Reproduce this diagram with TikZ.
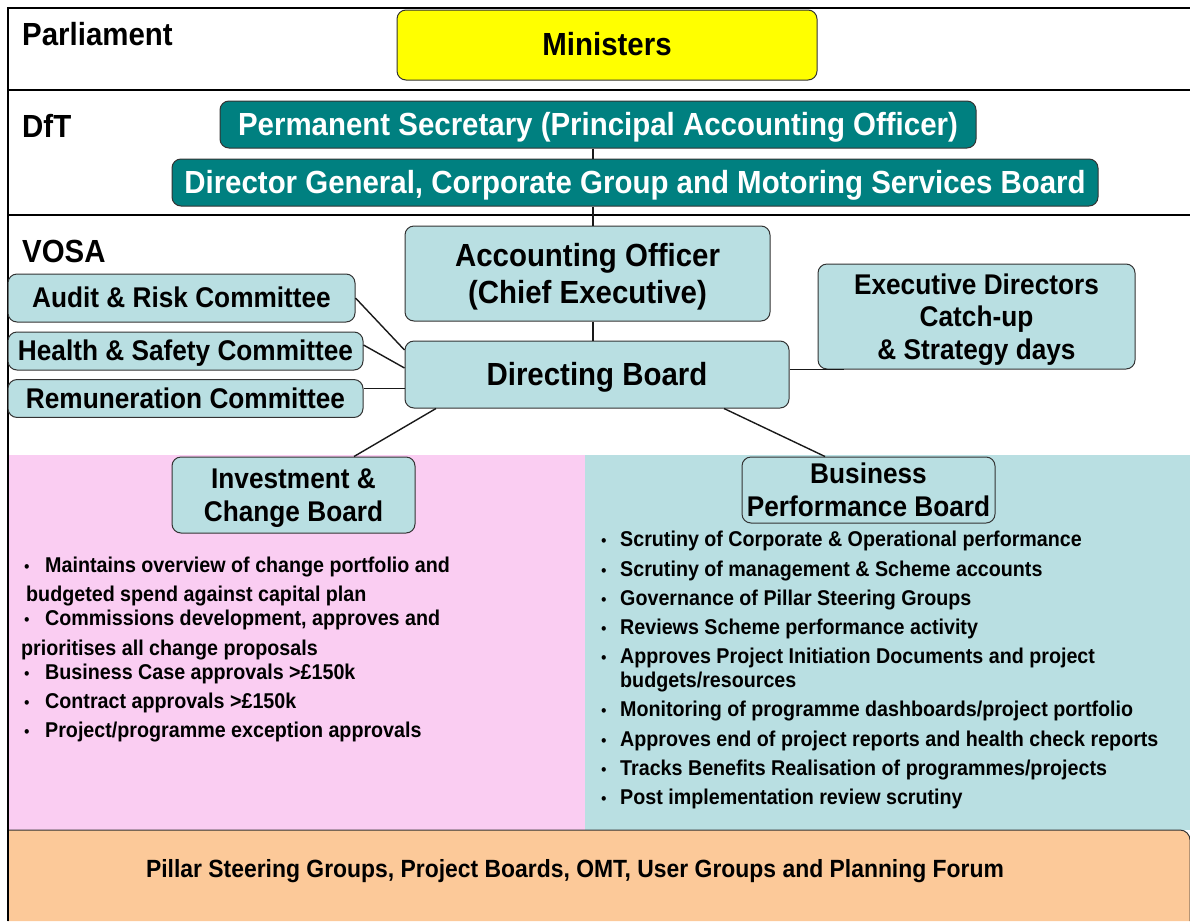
\documentclass[tikz,border=0pt]{standalone}
\usepackage{fontspec}
\setmainfont{Liberation Sans}[FakeStretch=0.92]
\usetikzlibrary{calc}

\definecolor{ministeryellow}{RGB}{255,255,0}
\definecolor{dftteal}{RGB}{0,128,128}
\definecolor{vosablue}{RGB}{185,223,226}
\definecolor{icbpink}{RGB}{250,205,242}
\definecolor{pillarorange}{RGB}{252,201,153}

\tikzset{
  box/.style={draw=black!80, line width=1pt, rounded corners=9pt, fill=vosablue, align=center, inner sep=0pt,
    font=\bfseries\fontsize{28.5}{32.5}\selectfont,
    execute at begin node={\rule{0pt}{1em}}, execute at end node={\rule[-0.33em]{0pt}{0pt}}},
  bigbox/.style={box, font=\bfseries\fontsize{32}{37}\selectfont},
  dftbox/.style={box, fill=dftteal, text=white, font=\bfseries\fontsize{32}{36}\selectfont},
  multi/.style={text depth=0pt},
  tier/.style={anchor=west, inner sep=0pt, font=\bfseries\fontsize{32}{36}\selectfont},
  link/.style={line width=1.4pt, black!90},
  frame/.style={line width=2pt},
  item/.style={anchor=base west, inner sep=0pt, font=\bfseries\fontsize{21.4}{24}\selectfont},
  dot/.style={anchor=base west, inner sep=0pt, font=\fontsize{17}{20}\selectfont}
}

\begin{document}
\begin{tikzpicture}[x=1pt, y=-1pt]
\useasboundingbox (0,0) rectangle (1190,921);

% board panels and the bottom band
\fill[icbpink] (8,455) rectangle (585,830);
\fill[vosablue] (585,455) rectangle (1190,830);
\filldraw[fill=pillarorange, draw=black!80, line width=1pt]
  (8,921) -- (8,830) -- (1180,830) arc[start angle=-90, end angle=0, radius=10] -- (1190,921);

% tiers
\draw[frame] (8,921) -- (8,8) -- (1190,8);
\draw[frame] (8,90) -- (1190,90);
\draw[frame] (8,215) -- (1190,215);
\node[tier] (parl) at (22,34) {Parliament};
\node[tier] (dft) at (22,126) {DfT};
\node[tier] (vosa) at (22,251) {VOSA};

% boxes
\node[bigbox, fill=ministeryellow, minimum width=420pt, minimum height=70pt] (min) at (607,45) {Ministers};
\node[dftbox, minimum width=756pt, minimum height=47pt] (permsec) at (598,124.5) {Permanent Secretary (Principal Accounting Officer)};
\node[dftbox, minimum width=926pt, minimum height=47pt] (dg) at (635,182.5) {Director General, Corporate Group and Motoring Services Board};
\node[bigbox, multi, minimum width=365pt, minimum height=95pt] (ao) at (587.5,273.5) {Accounting Officer\\(Chief Executive)};
\node[box, multi, minimum width=317pt, minimum height=105pt] (exec) at (976.5,316.5) {Executive Directors\\Catch-up\\\& Strategy days};
\node[bigbox, minimum width=384pt, minimum height=67pt] (db) at (597,374.5) {Directing Board};
\node[box, minimum width=347pt, minimum height=48pt] (audit) at (181.5,298) {Audit \& Risk Committee};
\node[box, minimum width=355pt, minimum height=38pt] (hs) at (185.5,351) {Health \& Safety Committee};
\node[box, minimum width=355pt, minimum height=37pt] (remun) at (185.5,398.5) {Remuneration Committee};
\node[box, multi, minimum width=243pt, minimum height=76pt,
  font=\bfseries\fontsize{28.5}{32.7}\selectfont] (icb) at (293.5,495) {Investment \&\\Change Board};
\node[box, multi, fill=none, minimum width=253pt, minimum height=66pt,
  font=\bfseries\fontsize{28.5}{32.7}\selectfont] (bpb) at (868.5,490) {Business\\Performance Board};

% links
\coordinate (spine) at (593,0);
\draw[link] (permsec.south -| spine) -- (dg.north -| spine);
\draw[link] (dg.south -| spine) -- (ao.north -| spine);
\draw[link] (ao.south -| spine) -- (db.north -| spine);
\draw[link] (audit.east) -- ([yshift=24.5pt]db.west);
\draw[link] ([yshift=6pt]hs.east) -- ([yshift=6.5pt]db.west);
\coordinate (remT) at ([yshift=10pt]remun.east);
\draw[link] (remT) -- (remT -| db.west);
\draw[link] ([xshift=-161pt]db.south) -- ([xshift=60.5pt]icb.north);
\draw[link] ([xshift=127pt]db.south) -- ([xshift=-43.5pt]bpb.north);
\draw[link] (exec.south -| db.east) -- ([xshift=26pt]exec.south west);

% investment & change board remit
\node[dot] at (24,572) {\textbullet};
\node[item] (icb1) at (45,572) {Maintains overview of change portfolio and};
\node[item] (icb1b) at (26,601) {budgeted spend against capital plan};
\node[dot] at (24,625) {\textbullet};
\node[item] (icb2) at (45,625) {Commissions development, approves and};
\node[item] (icb2b) at (21,655) {prioritises all change proposals};
\node[dot] at (24,679) {\textbullet};
\node[item] (icb3) at (45,679) {Business Case approvals >£150k};
\node[dot] at (24,708) {\textbullet};
\node[item] (icb4) at (45,708) {Contract approvals >£150k};
\node[dot] at (24,737) {\textbullet};
\node[item] (icb5) at (45,737) {Project/programme exception approvals};

% business performance board remit
\foreach \yb/\txt in {546/{Scrutiny of Corporate \& Operational performance},
    576/{Scrutiny of management \& Scheme accounts},
    605/{Governance of Pillar Steering Groups},
    634/{Reviews Scheme performance activity},
    663/{Approves Project Initiation Documents and project},
    716/{Monitoring of programme dashboards/project portfolio},
    746/{Approves end of project reports and health check reports},
    775/{Tracks Benefits Realisation of programmes/projects},
    804/{Post implementation review scrutiny}}
{
  \node[dot] at (601,\yb) {\textbullet};
  \node[item] at (620,\yb) {\txt};
}
\node[item] (bpb5b) at (620,687) {budgets/resources};

\node[anchor=base, inner sep=0pt, font=\bfseries\fontsize{24.9}{28}\selectfont] (pillar) at (575,877)
  {Pillar Steering Groups, Project Boards, OMT, User Groups and Planning Forum};
\end{tikzpicture}
\end{document}
